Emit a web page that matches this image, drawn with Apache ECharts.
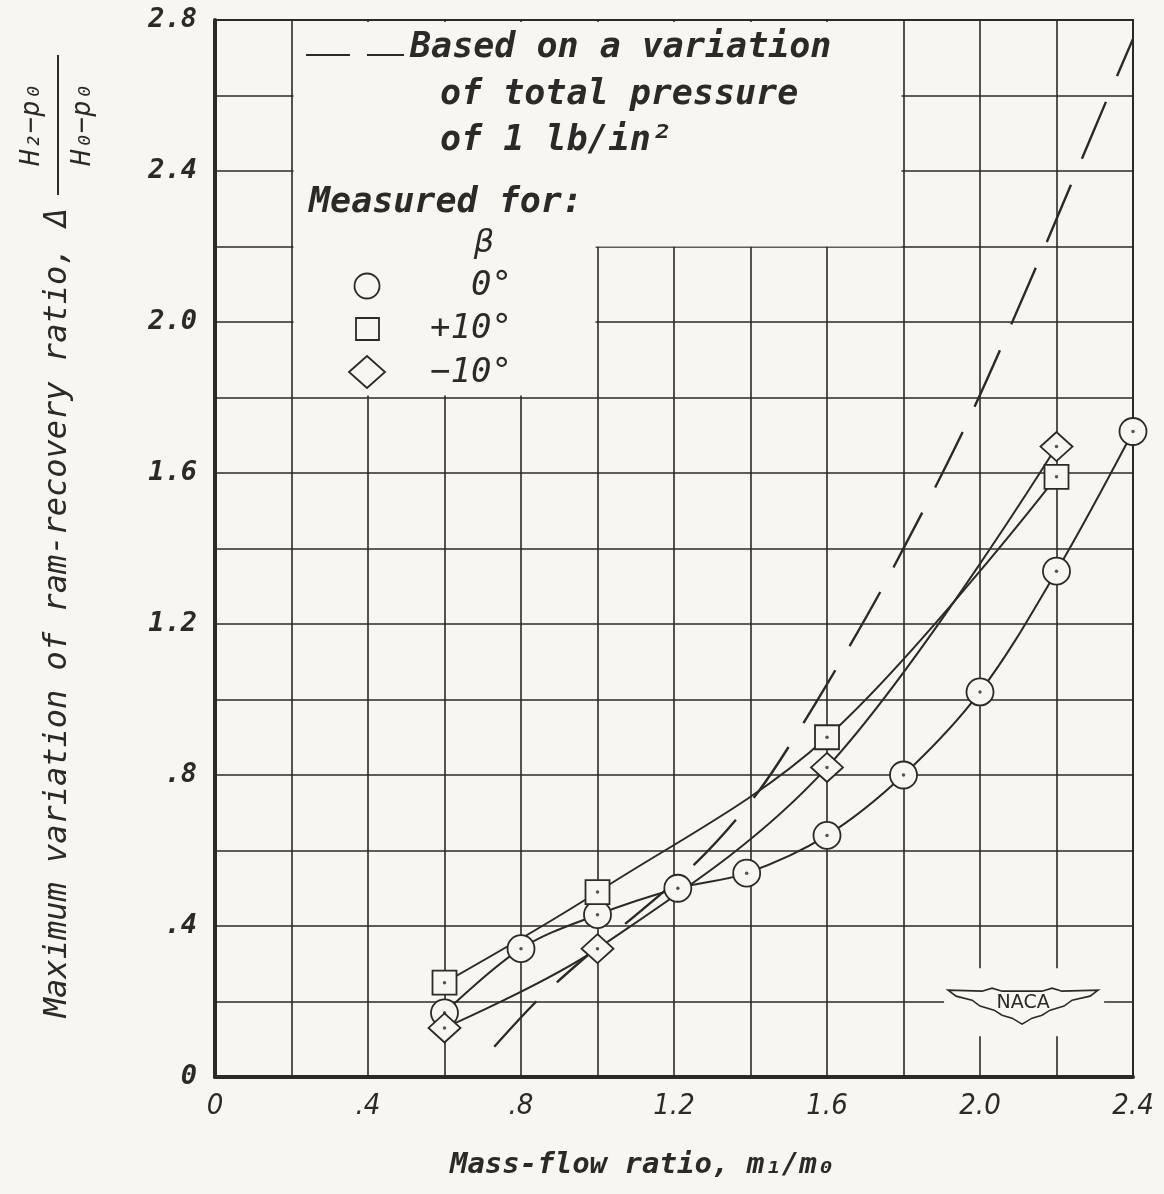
<!DOCTYPE html>
<html>
<head>
<meta charset="utf-8">
<script src="https://cdn.jsdelivr.net/npm/echarts@6/dist/echarts.min.js"></script>
<style>
    html, body { margin: 0; padding: 0; background: #f8f6f0; }
    #main { width: 1164px; height: 1194px; }
</style>
</head>
<body>
<div id="main"></div>
<script>
(function () {
    // tick labels
    const xTickLabels = ['0', '.4', '.8', '1.2', '1.6', '2.0', '2.4'];
    const yTickLabels = ['0', '.4', '.8', '1.2', '1.6', '2.0', '2.4', '2.8'];

    // measured, beta = 0 deg (circles)
    const circleX = [0.6, 0.8, 1.0, 1.21, 1.39, 1.6, 1.8, 2.0, 2.2, 2.4];
    const circleY = [0.17, 0.34, 0.43, 0.50, 0.54, 0.64, 0.80, 1.02, 1.34, 1.71];
    // measured, beta = +10 deg (squares)
    const squareX = [0.6, 1.0, 1.6, 2.2];
    const squareY = [0.25, 0.49, 0.90, 1.59];
    // measured, beta = -10 deg (diamonds)
    const diamondX = [0.6, 1.0, 1.6, 2.2];
    const diamondY = [0.13, 0.34, 0.82, 1.67];
    // dashed curve: variation of total pressure of 1 lb/in2
    const dashX = [0.73, 0.84, 0.96, 1.26, 1.42, 1.57, 1.75, 1.96, 2.14, 2.33, 2.40];
    const dashY = [0.08, 0.20, 0.31, 0.57, 0.755, 0.99, 1.305, 1.72, 2.13, 2.585, 2.75];

    const ink = '#2b2a28';
    const paper = '#f8f6f0';
    // lettering-guide look: monospaced oblique
    const mono = '"DejaVu Sans Mono", "Liberation Mono", monospace';
    const keyFont = 'italic bold 35px ' + mono;

    function pairs(xs, ys) {
        return xs.map(function (x, i) { return [x, ys[i]]; });
    }

    function tickText(labels) {
        return function (v) {
            const i = Math.round(v / 0.4);
            return Math.abs(v - i * 0.4) < 1e-6 ? labels[i] : '';
        };
    }

    function curve(name, xs, ys, symbol, size) {
        return {
            name: name,
            type: 'line',
            data: pairs(xs, ys),
            smooth: 0.35,
            symbol: symbol,
            symbolSize: size,
            showAllSymbol: true,
            lineStyle: { color: ink, width: 2 },
            itemStyle: { color: paper, borderColor: ink, borderWidth: 1.8 },
            z: 3
        };
    }

    function dots(xs, ys) {
        return {
            type: 'scatter',
            data: pairs(xs, ys),
            symbol: 'circle',
            symbolSize: 3.5,
            itemStyle: { color: ink },
            silent: true,
            z: 4
        };
    }

    let myChart = echarts.init(document.getElementById('main'));

    let option = {
        backgroundColor: paper,
        animation: false,
        grid: {
            left: 215, right: 31, top: 20, bottom: 117,
            show: true, borderColor: ink, borderWidth: 2
        },
        xAxis: {
            type: 'value',
            min: 0, max: 2.4, interval: 0.2,
            axisLine: { lineStyle: { color: ink, width: 4 } },
            axisTick: { show: false },
            axisLabel: {
                margin: 15,
                formatter: tickText(xTickLabels),
                color: ink,
                fontSize: 29,
                fontStyle: 'italic',
                fontFamily: '"DejaVu Sans Condensed", "DejaVu Sans"'
            },
            splitLine: { lineStyle: { color: ink, width: 1.6 } }
        },
        yAxis: {
            type: 'value',
            min: 0, max: 2.8, interval: 0.2,
            axisLine: { show: true, lineStyle: { color: ink, width: 4 } },
            axisTick: { show: false },
            axisLabel: {
                margin: 18,
                formatter: tickText(yTickLabels),
                color: ink,
                fontSize: 27,
                fontStyle: 'italic',
                fontWeight: 'bold',
                fontFamily: mono
            },
            splitLine: { lineStyle: { color: ink, width: 1.6 } }
        },
        series: [
            {
                name: '1 lb/in²',
                type: 'line',
                data: pairs(dashX, dashY),
                smooth: 0.3,
                symbol: 'none',
                lineStyle: { color: ink, width: 2.4, type: [62, 28] },
                z: 3
            },
            curve('0°', circleX, circleY, 'circle', 27),
            curve('+10°', squareX, squareY, 'rect', 24),
            curve('−10°', diamondX, diamondY, 'diamond', [32, 29]),
            dots(circleX, circleY),
            dots(squareX, squareY),
            dots(diamondX, diamondY)
        ]
    };

    myChart.setOption(option);

    // decorations placed from the axes
    const px = function (x, y) { return myChart.convertToPixel({ gridIndex: 0 }, [x, y]); };
    const a = px(0.2, 2.8), b = px(1.8, 2.2), c = px(1.0, 1.8);
    const logo = px(2.11, 0.193);
    const lx = logo[0], ly = logo[1];

    const wing = [
        [-74, -14], [-40, -13], [-30, -16], [-20, -13], [20, -13], [30, -16], [40, -13], [76, -14],
        [68, -8], [50, -4], [42, 2], [28, 6], [20, 11], [10, 14], [0, 20],
        [-10, 14], [-20, 11], [-28, 6], [-42, 2], [-50, -4], [-66, -8]
    ].map(function (p) { return [lx + p[0], ly + p[1]]; });

    const graphics = [
        // blank panel behind the key
        { type: 'rect', z: 1, shape: { x: a[0] + 2, y: a[1] + 2, width: b[0] - a[0] - 4, height: b[1] - a[1] - 2 }, style: { fill: paper } },
        { type: 'rect', z: 1, shape: { x: a[0] + 2, y: b[1] - 2, width: c[0] - a[0] - 4, height: c[1] - b[1] }, style: { fill: paper } },
        // NACA badge
        { type: 'rect', z: 1, shape: { x: lx - 78, y: ly - 36, width: 160, height: 68 }, style: { fill: paper } },
        { type: 'polygon', z: 5, shape: { points: wing }, style: { fill: paper, stroke: ink, lineWidth: 1.6 } },
        { type: 'text', z: 6, x: lx + 1, y: ly - 1, style: { text: 'NACA', font: '19px "DejaVu Sans"', fill: ink, align: 'center', verticalAlign: 'middle' } },

        // key text
        { type: 'line', z: 5, shape: { x1: 306, y1: 55, x2: 350, y2: 55 }, style: { stroke: ink, lineWidth: 2 } },
        { type: 'line', z: 5, shape: { x1: 367, y1: 55, x2: 404, y2: 55 }, style: { stroke: ink, lineWidth: 2 } },
        { type: 'text', z: 5, x: 410, y: 48, style: { text: 'Based on a variation', font: keyFont, fill: ink, verticalAlign: 'middle' } },
        { type: 'text', z: 5, x: 440, y: 95, style: { text: 'of total pressure', font: keyFont, fill: ink, verticalAlign: 'middle' } },
        { type: 'text', z: 5, x: 440, y: 141, style: { text: 'of 1 lb/in²', font: keyFont, fill: ink, verticalAlign: 'middle' } },
        { type: 'text', z: 5, x: 309, y: 203, style: { text: 'Measured for:', font: keyFont, fill: ink, verticalAlign: 'middle' } },
        { type: 'text', z: 5, x: 484, y: 244, style: { text: 'β', font: 'italic 32px "DejaVu Sans"', fill: ink, align: 'center', verticalAlign: 'middle' } },
        { type: 'circle', z: 5, shape: { cx: 367, cy: 286, r: 12.5 }, style: { fill: paper, stroke: ink, lineWidth: 1.8 } },
        { type: 'rect', z: 5, shape: { x: 356, y: 318, width: 23, height: 22 }, style: { fill: paper, stroke: ink, lineWidth: 1.8 } },
        { type: 'polygon', z: 5, shape: { points: [[349, 372], [367, 356], [385, 372], [367, 388]] }, style: { fill: paper, stroke: ink, lineWidth: 1.8 } },
        { type: 'text', z: 5, x: 512, y: 286, style: { text: '0°', font: 'italic 34px ' + mono, fill: ink, align: 'right', verticalAlign: 'middle' } },
        { type: 'text', z: 5, x: 512, y: 329, style: { text: '+10°', font: 'italic 34px ' + mono, fill: ink, align: 'right', verticalAlign: 'middle' } },
        { type: 'text', z: 5, x: 512, y: 373, style: { text: '−10°', font: 'italic 34px ' + mono, fill: ink, align: 'right', verticalAlign: 'middle' } },

        // axis titles
        { type: 'text', z: 5, x: 642, y: 1165, style: { text: 'Mass-flow ratio, m₁/m₀', font: 'italic bold 29px ' + mono, fill: ink, align: 'center', verticalAlign: 'middle' } },
        { type: 'text', z: 5, x: 58, y: 208, rotation: Math.PI / 2, style: { text: 'Maximum variation of ram-recovery ratio, Δ', font: 'italic 32px ' + mono, fill: ink, align: 'right', verticalAlign: 'middle' } },
        { type: 'text', z: 5, x: 32, y: 125, rotation: Math.PI / 2, style: { text: 'H₂−p₀', font: 'italic 27px ' + mono, fill: ink, align: 'center', verticalAlign: 'middle' } },
        { type: 'line', z: 5, shape: { x1: 58, y1: 55, x2: 58, y2: 195 }, style: { stroke: ink, lineWidth: 2 } },
        { type: 'text', z: 5, x: 83, y: 125, rotation: Math.PI / 2, style: { text: 'H₀−p₀', font: 'italic 27px ' + mono, fill: ink, align: 'center', verticalAlign: 'middle' } }
    ];

    myChart.setOption({ graphic: graphics });
}());
</script>
</body>
</html>
